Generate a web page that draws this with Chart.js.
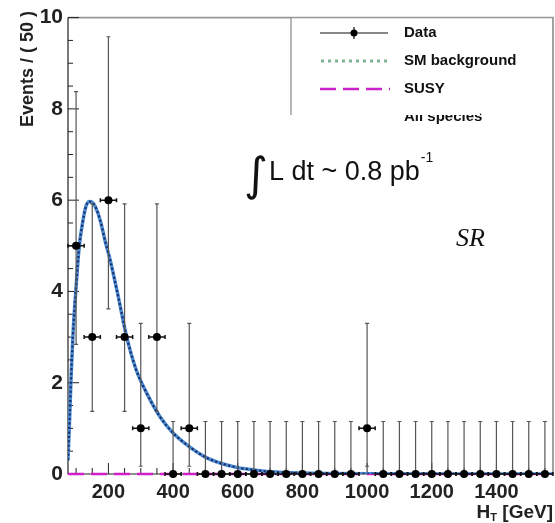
<!DOCTYPE html>
<html>
<head>
<meta charset="utf-8">
<script src="https://cdn.jsdelivr.net/npm/chart.js@4"></script>
<style>
  body { margin: 0; background: #fff; }
  canvas { display: block; }
</style>
</head>
<body>
<canvas id="c" width="555" height="523"></canvas>
<script>
// measured data (bin centers, 50 GeV bins)
const dataX = [100, 150, 200, 250, 300, 350, 400, 450, 500, 550, 600, 650, 700, 750, 800, 850, 900, 950, 1000, 1050, 1100, 1150, 1200, 1250, 1300, 1350, 1400, 1450, 1500, 1550];
const dataY = [5, 3, 6, 3, 1, 3, 0, 1, 0, 0, 0, 0, 0, 0, 0, 0, 0, 0, 1, 0, 0, 0, 0, 0, 0, 0, 0, 0, 0, 0];
// error bar ends
const errLo = [2.84, 1.37, 3.62, 1.37, 0.17, 1.37, 0, 0.17, 0, 0, 0, 0, 0, 0, 0, 0, 0, 0, 0.17, 0, 0, 0, 0, 0, 0, 0, 0, 0, 0, 0];
const errHi = [8.38, 5.92, 9.58, 5.92, 3.3, 5.92, 1.15, 3.3, 1.15, 1.15, 1.15, 1.15, 1.15, 1.15, 1.15, 1.15, 1.15, 1.15, 3.3, 1.15, 1.15, 1.15, 1.15, 1.15, 1.15, 1.15, 1.15, 1.15, 1.15, 1.15];
const binHalf = 25;

// SM background / all species curve
const curveX = [75, 80, 85, 90, 95, 100, 110, 120, 130, 140, 150, 160, 175, 190, 205, 230, 255, 285, 320, 360, 400, 450, 500, 550, 600, 650, 700, 800, 900, 1000, 1200, 1575];
const curveY = [0.3, 1.2, 2.2, 3.0, 3.6, 4.1, 5.0, 5.5, 5.85, 5.97, 5.95, 5.85, 5.55, 5.1, 4.7, 3.9, 3.05, 2.3, 1.75, 1.25, 0.9, 0.6, 0.37, 0.23, 0.14, 0.09, 0.05, 0.02, 0.01, 0.005, 0.001, 0];

const susyX = [75, 1575];
const susyY = [0, 0];

const xTicks = [200, 400, 600, 800, 1000, 1200, 1400];
const yTicks = [0, 2, 4, 6, 8, 10];

const toPts = (xs, ys) => xs.map((x, i) => ({ x, y: ys[i] }));

const rootStyle = {
  id: 'rootStyle',
  beforeDatasetsDraw(chart) {
    const { ctx, chartArea: a, scales: { x, y } } = chart;
    ctx.save();
    // frame
    ctx.strokeStyle = '#999';
    ctx.lineWidth = 1.8;
    ctx.beginPath();
    ctx.moveTo(a.left, a.top); ctx.lineTo(a.right, a.top); ctx.lineTo(a.right, a.bottom);
    ctx.stroke();
    ctx.strokeStyle = '#222';
    ctx.lineWidth = 1.2;
    ctx.beginPath();
    ctx.moveTo(a.left, a.top); ctx.lineTo(a.left, a.bottom); ctx.lineTo(a.right, a.bottom);
    ctx.stroke();
    // inward ticks
    ctx.lineWidth = 1;
    ctx.beginPath();
    for (let v = 0; v <= 10; v += 0.5) {
      const p = y.getPixelForValue(v);
      const len = v % 2 === 0 ? 11 : 5;
      ctx.moveTo(a.left, p); ctx.lineTo(a.left + len, p);
    }
    for (let v = 100; v <= 1550; v += 50) {
      const p = x.getPixelForValue(v);
      const len = v % 200 === 0 ? 11 : 6;
      ctx.moveTo(p, a.bottom); ctx.lineTo(p, a.bottom - len);
    }
    ctx.stroke();
    ctx.restore();
  },
  afterDatasetsDraw(chart) {
    const { ctx, scales: { x, y } } = chart;
    ctx.save();
    // error bars + markers
    dataX.forEach((v, i) => {
      const px = x.getPixelForValue(v);
      const py = y.getPixelForValue(dataY[i]);
      const lo = y.getPixelForValue(errLo[i]);
      const hi = y.getPixelForValue(errHi[i]);
      ctx.strokeStyle = '#555';
      ctx.lineWidth = 1.2;
      ctx.beginPath();
      ctx.moveTo(px, lo); ctx.lineTo(px, hi);
      ctx.moveTo(px - 2, hi); ctx.lineTo(px + 2, hi);
      if (errLo[i] > 0) { ctx.moveTo(px - 2, lo); ctx.lineTo(px + 2, lo); }
      ctx.stroke();
      const l = x.getPixelForValue(v - binHalf), r = x.getPixelForValue(v + binHalf);
      ctx.strokeStyle = '#111';
      ctx.lineWidth = 1.5;
      ctx.beginPath();
      ctx.moveTo(l, py); ctx.lineTo(r, py);
      ctx.moveTo(l, py - 2); ctx.lineTo(l, py + 2);
      ctx.moveTo(r, py - 2); ctx.lineTo(r, py + 2);
      ctx.stroke();
      ctx.fillStyle = '#000';
      ctx.beginPath();
      ctx.arc(px, py, 4, 0, Math.PI * 2);
      ctx.fill();
    });
    ctx.restore();
  },
  afterDraw(chart) {
    const { ctx, chartArea: a } = chart;
    ctx.save();
    // axis titles
    ctx.fillStyle = '#222';
    ctx.font = 'bold 18px "Liberation Sans", Arial, sans-serif';
    ctx.save();
    ctx.translate(28, 11);
    ctx.rotate(-Math.PI / 2);
    ctx.textAlign = 'right';
    ctx.textBaseline = 'middle';
    ctx.fillText('Events / ( 50 )', 0, 0);
    ctx.restore();

    ctx.textBaseline = 'alphabetic';
    ctx.textAlign = 'left';
    const big = 'bold 19px "Liberation Sans", Arial, sans-serif';
    const sub = 'bold 11px "Liberation Sans", Arial, sans-serif';
    ctx.font = big;
    const wRest = ctx.measureText(' [GeV]').width;
    const wH = ctx.measureText('H').width;
    ctx.font = sub;
    const wT = ctx.measureText('T').width;
    let tx = 553 - wRest - wT - wH;
    ctx.font = big; ctx.fillText('H', tx, 518); tx += wH;
    ctx.font = sub; ctx.fillText('T', tx, 521); tx += wT;
    ctx.font = big; ctx.fillText(' [GeV]', tx, 518);

    // luminosity label
    ctx.fillStyle = '#111';
    ctx.font = '46px "DejaVu Sans", sans-serif';
    ctx.fillText('\u222B', 244, 190);
    ctx.font = '27px "Liberation Sans", Arial, sans-serif';
    ctx.fillText('L dt ~ 0.8 pb', 269, 180);
    const wl = ctx.measureText('L dt ~ 0.8 pb').width;
    ctx.font = '14px "Liberation Sans", Arial, sans-serif';
    ctx.fillText('-1', 269 + wl + 1, 162);

    ctx.font = 'italic 26px "Liberation Serif", "Times New Roman", serif';
    ctx.fillText('SR', 456, 246);

    // legend
    ctx.fillStyle = '#fff';
    ctx.fillRect(292, a.top + 1, a.right - 293, 112);
    ctx.strokeStyle = '#888';
    ctx.lineWidth = 1.2;
    ctx.beginPath();
    ctx.moveTo(291, a.top); ctx.lineTo(291, 115);
    ctx.stroke();

    ctx.strokeStyle = '#111';
    ctx.lineWidth = 1.2;
    ctx.beginPath();
    ctx.moveTo(320, 33); ctx.lineTo(388, 33);
    ctx.moveTo(354, 27); ctx.lineTo(354, 39);
    ctx.stroke();
    ctx.fillStyle = '#000';
    ctx.beginPath(); ctx.arc(354, 33, 3.5, 0, Math.PI * 2); ctx.fill();

    ctx.strokeStyle = '#7fb592';
    ctx.lineWidth = 3;
    ctx.setLineDash([3, 4]);
    ctx.beginPath(); ctx.moveTo(321, 61); ctx.lineTo(388, 61); ctx.stroke();
    ctx.strokeStyle = '#cc22cc';
    ctx.lineWidth = 2.5;
    ctx.setLineDash([16, 7]);
    ctx.beginPath(); ctx.moveTo(320, 89); ctx.lineTo(390, 89); ctx.stroke();
    ctx.setLineDash([]);

    ctx.fillStyle = '#111';
    ctx.font = 'bold 15px "Liberation Sans", Arial, sans-serif';
    ctx.textBaseline = 'middle';
    ctx.fillText('Data', 404, 33);
    ctx.fillText('SM background', 404, 61);
    ctx.fillText('SUSY', 404, 89);
    ctx.fillText('All species', 404, 117);
    ctx.fillStyle = '#fff';
    ctx.fillRect(400, 100, 80, 15);
    ctx.restore();
  }
};

new Chart(document.getElementById('c'), {
  type: 'scatter',
  data: {
    datasets: [
      {
        label: 'Data',
        data: toPts(dataX, dataY),
        pointRadius: 0
      },
      {
        label: 'SM background',
        data: toPts(curveX, curveY),
        showLine: true,
        borderColor: '#1a2a66',
        borderWidth: 2.2,
        borderDash: [2, 2.5],
        cubicInterpolationMode: 'monotone',
        pointRadius: 0
      },
      {
        label: 'All species',
        data: toPts(curveX, curveY),
        showLine: true,
        borderColor: '#4a8ad0',
        borderWidth: 3.5,
        cubicInterpolationMode: 'monotone',
        pointRadius: 0
      },
      {
        label: 'SUSY',
        data: toPts(susyX, susyY),
        showLine: true,
        borderColor: '#d020c8',
        borderWidth: 2.5,
        borderDash: [16, 7],
        pointRadius: 0,
        clip: 4
      }
    ]
  },
  options: {
    responsive: false,
    animation: false,
    layout: { padding: { top: 13, right: 2, left: 0, bottom: 0 } },
    plugins: { legend: { display: false }, tooltip: { enabled: false } },
    scales: {
      x: {
        type: 'linear',
        min: 75,
        max: 1575,
        grid: { display: false, drawTicks: false, tickLength: 0 },
        border: { display: false },
        afterFit: s => { s.height = 49; },
        afterBuildTicks: s => { s.ticks = xTicks.map(v => ({ value: v })); },
        ticks: {
          padding: 6,
          maxRotation: 0,
          color: '#222',
          callback: v => String(v),
          font: { family: '"Liberation Sans", Arial, sans-serif', size: 20, weight: 'bold' }
        }
      },
      y: {
        min: 0,
        max: 10,
        grid: { display: false, drawTicks: false, tickLength: 0 },
        border: { display: false },
        afterFit: s => { s.width = 68; },
        afterBuildTicks: s => { s.ticks = yTicks.map(v => ({ value: v })); },
        ticks: {
          padding: 5,
          color: '#222',
          callback: v => String(v),
          font: { family: '"Liberation Sans", Arial, sans-serif', size: 21, weight: 'bold' }
        }
      }
    }
  },
  plugins: [rootStyle]
});
</script>
</body>
</html>
